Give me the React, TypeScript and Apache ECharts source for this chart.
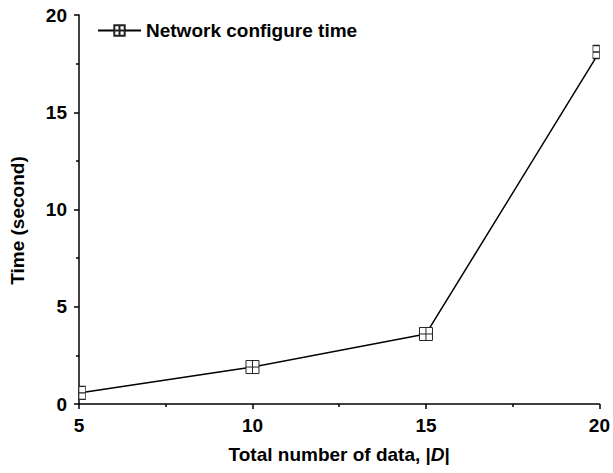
import React, { useEffect, useRef } from "react";
import * as echarts from "echarts";

const xValues = [5, 10, 15, 20];
const timeValues = [0.57, 1.9, 3.6, 18.1];
const seriesName = "Network configure time";
const xTicks = [5, 10, 15, 20];
const yTicks = [0, 5, 10, 15, 20];

const FULL = "path://M0,0L10,0L10,10L0,10Z M5,0L5,10 M0,5L10,5";
const RIGHT_HALF = "path://M0,0L5,0L5,10L0,10Z M0,5L5,5";
const LEFT_HALF = "path://M0,0L5,0L5,10L0,10Z M0,5L5,5";

export default function App() {
  const ref = useRef<HTMLDivElement>(null);
  useEffect(() => {
    document.body.style.margin = "0";
    document.body.style.overflow = "hidden";
    if (!ref.current) return;
    const chart = echarts.init(ref.current, null, { renderer: "svg" });
    const font = "'Liberation Sans', Arial, sans-serif";
    const fs = 19;
    const data = xValues.map((x, i) => {
      const item: any = { value: [x, timeValues[i]] };
      if (i === 0) {
        item.symbol = RIGHT_HALF;
        item.symbolSize = [6.5, 13];
        item.symbolOffset = [3.25, 0];
      } else if (i === xValues.length - 1) {
        item.symbol = LEFT_HALF;
        item.symbolSize = [6.5, 13];
        item.symbolOffset = [-3.25, 0];
      }
      return item;
    });
    chart.setOption({
      animation: false,
      backgroundColor: "#fff",
      grid: { left: 79, right: 12, top: 15, bottom: 69, containLabel: false },
      legend: {
        left: 92,
        top: 16,
        itemWidth: 43,
        itemHeight: 13,
        itemGap: 4,
        textStyle: { fontFamily: font, fontWeight: "bold", fontSize: fs, color: "#000" },
        data: [seriesName],
      },
      xAxis: {
        type: "value",
        min: xTicks[0],
        max: xTicks[xTicks.length - 1],
        interval: 5,
        name: "Total number of data, |{i|D}|",
        nameLocation: "middle",
        nameGap: 38,
        nameMoveOverlap: false,
        nameTextStyle: {
          fontFamily: font,
          fontWeight: "bold",
          fontSize: fs,
          color: "#000",
          padding: [3, 0, 0, 0],
          rich: { i: { fontFamily: font, fontWeight: "bold", fontStyle: "italic", fontSize: fs, color: "#000" } },
        },
        axisLine: { show: true, lineStyle: { color: "#000", width: 1.5 } },
        axisTick: { show: true, inside: false, length: 5, lineStyle: { color: "#000", width: 1.5 } },
        minorTick: { show: true, splitNumber: 2, length: 3, lineStyle: { color: "#000", width: 1.5 } },
        splitLine: { show: false },
        axisLabel: { margin: 12, fontFamily: font, fontWeight: "bold", fontSize: fs, color: "#000" },
      },
      yAxis: {
        type: "value",
        min: yTicks[0],
        max: yTicks[yTicks.length - 1],
        interval: 5,
        name: "Time (second)",
        nameLocation: "middle",
        nameGap: 52,
        nameMoveOverlap: false,
        nameTextStyle: { fontFamily: font, fontWeight: "bold", fontSize: fs, color: "#000", padding: [0, 22, 0, 0] },
        axisLine: { show: true, lineStyle: { color: "#000", width: 1.5 } },
        axisTick: { show: true, inside: false, length: 5, lineStyle: { color: "#000", width: 1.5 } },
        minorTick: { show: true, splitNumber: 2, length: 3, lineStyle: { color: "#000", width: 1.5 } },
        splitLine: { show: false },
        axisLabel: { margin: 12, fontFamily: font, fontWeight: "bold", fontSize: fs, color: "#000" },
      },
      series: [
        {
          name: seriesName,
          type: "line",
          data,
          clip: false,
          symbol: FULL,
          symbolSize: 13,
          itemStyle: { color: "#fff", borderColor: "#222", borderWidth: 1 },
          lineStyle: { color: "#000", width: 1.5 },
        },
      ],
    });
    return () => chart.dispose();
  }, []);
  return <div ref={ref} style={{ width: 613, height: 473 }} />;
}
